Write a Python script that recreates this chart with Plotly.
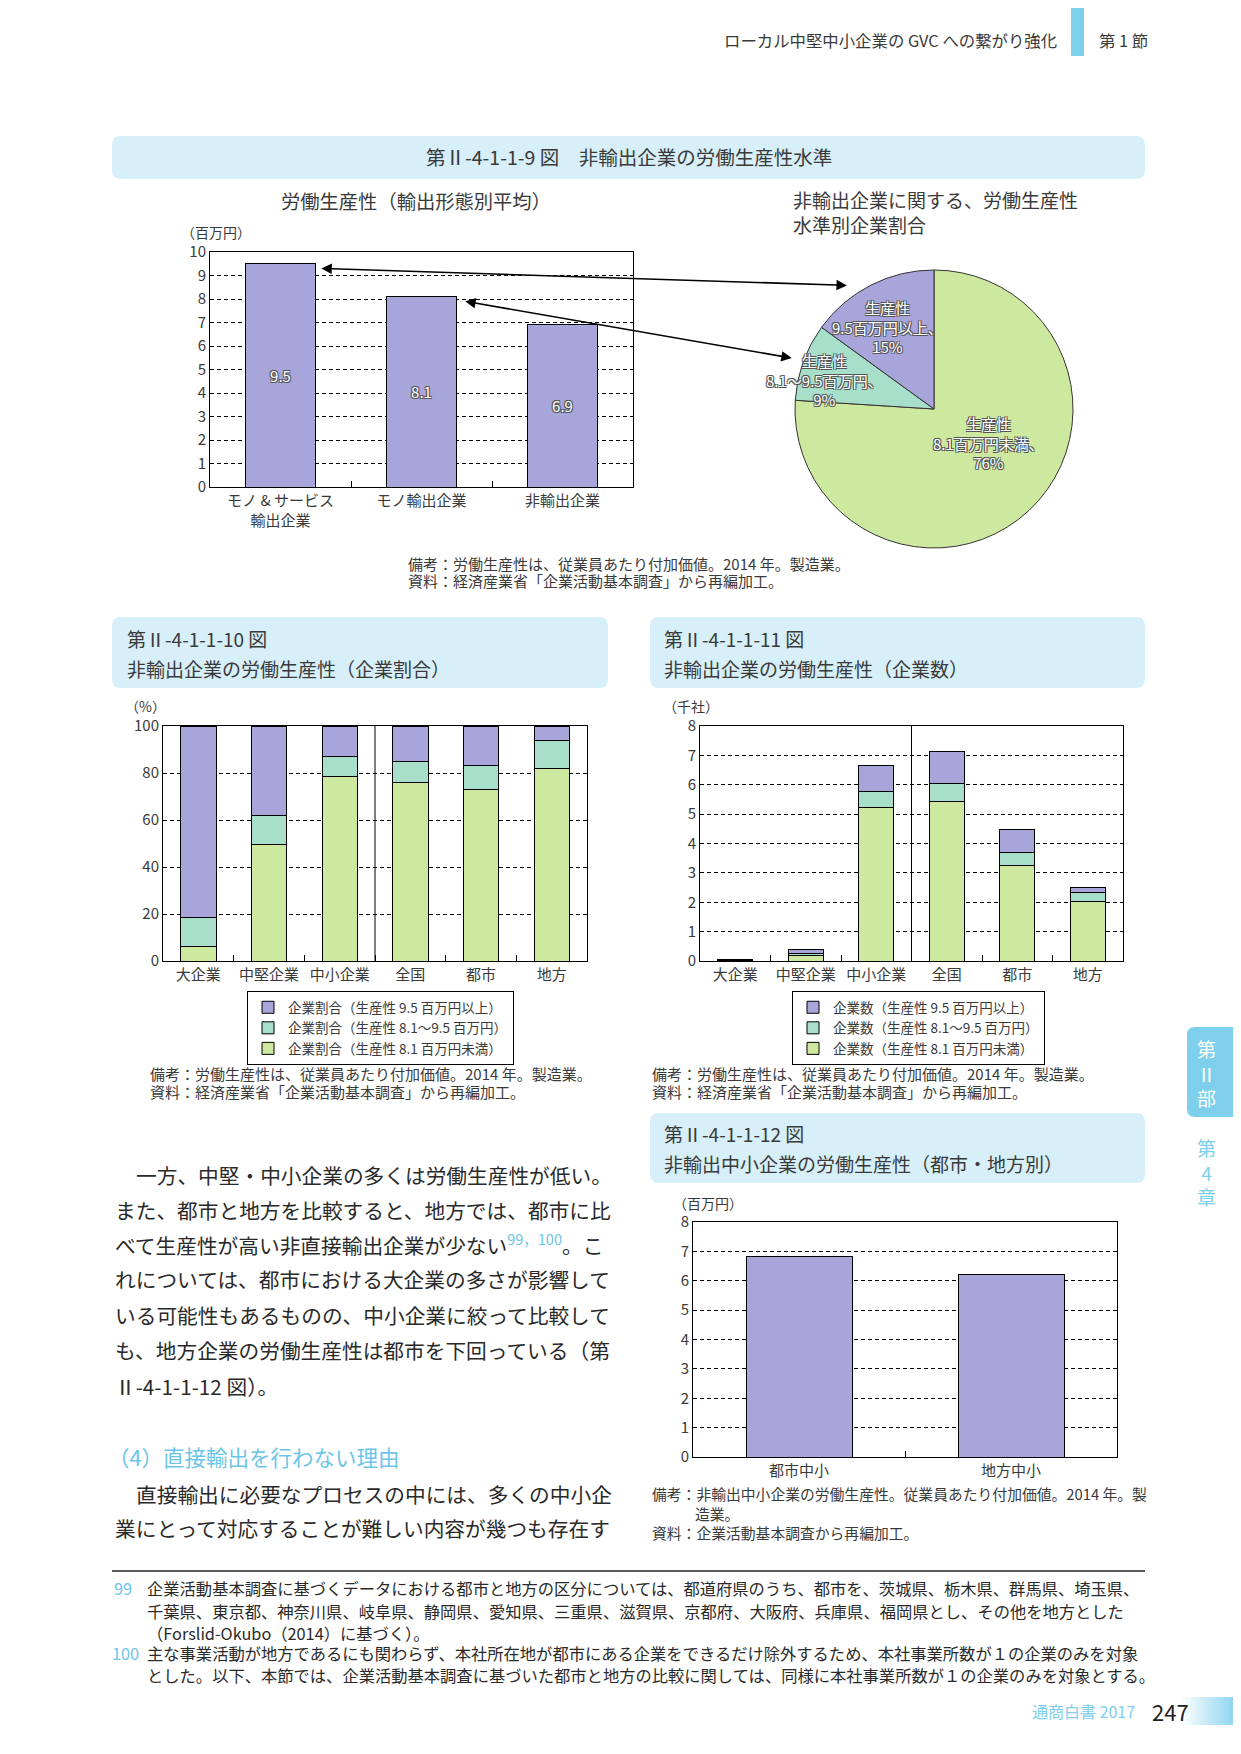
import plotly.graph_objects as go

PAGE_W, PAGE_H = 1241, 1754
OFF = 8  # browser body margin
W, H = PAGE_W - OFF, PAGE_H - OFF
def X(px): return (px - OFF) / W
def Y(py): return 1 - (py - OFF) / H

FONT = "Noto Sans CJK JP"
TXT = "#3a3a3a"
PURPLE = "#a7a5d9"
TEAL = "#a8dfcb"
GREEN = "#cde99f"
BLUE = "#6cc5e8"
BOXBLUE = "#d7eff9"
TABBLUE = "#7dcfec"

# ---------------- data ----------------
c9_cats = ["モノ & サービス<br>輸出企業", "モノ輸出企業", "非輸出企業"]
c9_vals = [9.5, 8.1, 6.9]

pie_labels = ["生産性8.1百万円未満", "生産性8.1～9.5百万円", "生産性9.5百万円以上"]
pie_vals = [76, 9, 15]

c10_cats = ["大企業", "中堅企業", "中小企業", "全国", "都市", "地方"]
c10_low = [6.1, 49.6, 78.5, 75.9, 72.9, 81.9]
c10_mid = [12.5, 12.3, 8.5, 8.9, 10.2, 11.9]
c10_high = [81.4, 38.1, 13.0, 15.2, 16.9, 6.2]
c10_names = ["企業割合（生産性 8.1 百万円未満）", "企業割合（生産性 8.1～9.5 百万円）", "企業割合（生産性 9.5 百万円以上）"]

c11_cats = ["大企業", "中堅企業", "中小企業", "全国", "都市", "地方"]
c11_low = [0.01, 0.20, 5.22, 5.43, 3.25, 2.03]
c11_mid = [0.01, 0.05, 0.55, 0.61, 0.44, 0.30]
c11_high = [0.04, 0.15, 0.88, 1.09, 0.79, 0.17]
c11_names = ["企業数（生産性 8.1 百万円未満）", "企業数（生産性 8.1～9.5 百万円）", "企業数（生産性 9.5 百万円以上）"]

c12_cats = ["都市中小", "地方中小"]
c12_vals = [6.82, 6.21]

# ---------------- figure ----------------
fig = go.Figure()
outline = dict(color="black", width=1)
outline_txt = "1px 1px 0 #555, -1px -1px 0 #555, 1px -1px 0 #555, -1px 1px 0 #555"

fig.add_trace(go.Bar(x=c9_cats, y=c9_vals, xaxis="x", yaxis="y",
                     marker=dict(color=PURPLE, line=outline),
                     text=[f"{v:.1f}" for v in c9_vals], textposition="inside",
                     insidetextanchor="middle", textangle=0, constraintext="none",
                     textfont=dict(color="white", size=15, family=FONT, shadow=outline_txt),
                     showlegend=False, hoverinfo="skip"))

fig.add_trace(go.Pie(values=pie_vals, labels=pie_labels, sort=False, direction="clockwise",
                     rotation=0, textinfo="none", showlegend=False, hoverinfo="skip",
                     marker=dict(colors=[GREEN, TEAL, PURPLE], line=dict(color="#333", width=1)),
                     domain=dict(x=[X(795), X(1073)], y=[Y(548), Y(270)])))

for vals, col, nm in zip([c10_low, c10_mid, c10_high], [GREEN, TEAL, PURPLE], c10_names):
    fig.add_trace(go.Bar(x=c10_cats, y=vals, name=nm, xaxis="x2", yaxis="y2",
                         marker=dict(color=col, line=outline), legend="legend", hoverinfo="skip"))

for vals, col, nm in zip([c11_low, c11_mid, c11_high], [GREEN, TEAL, PURPLE], c11_names):
    fig.add_trace(go.Bar(x=c11_cats, y=vals, name=nm, xaxis="x3", yaxis="y3",
                         marker=dict(color=col, line=outline), legend="legend2", hoverinfo="skip"))

fig.add_trace(go.Bar(x=c12_cats, y=c12_vals, xaxis="x4", yaxis="y4",
                     marker=dict(color=PURPLE, line=outline), showlegend=False, hoverinfo="skip"))

tickfont = dict(size=15, color=TXT, family=FONT)
def xax(x0, x1, anchor, n):
    return dict(domain=[X(x0), X(x1)], anchor=anchor, type="category", range=[-0.5, n - 0.5],
                showline=True, mirror=True, automargin=False, tickangle=0,
                linecolor="black", linewidth=1, ticks="inside", tickson="boundaries", ticklen=6,
                tickcolor="black", showgrid=False, zeroline=False, tickfont=tickfont, fixedrange=True)
def yax(y0, y1, anchor, rng, dt):
    return dict(domain=[Y(y1), Y(y0)], anchor=anchor, range=rng, dtick=dt, showline=True, mirror=True,
                automargin=False, linecolor="black", linewidth=1, ticks="", showgrid=True,
                gridcolor="black", griddash="4px,3px", gridwidth=1, zeroline=False,
                tickfont=tickfont, fixedrange=True)

legend_common = dict(xanchor="left", yanchor="top", bordercolor="black", borderwidth=1, bgcolor="white",
                     font=dict(size=13.5, color=TXT, family=FONT), traceorder="reversed",
                     itemwidth=30, tracegroupgap=0)

fig.update_layout(
    template="none",
    width=W, height=H, margin=dict(l=0, r=0, t=0, b=0, pad=0), autosize=False,
    paper_bgcolor="white", plot_bgcolor="white",
    font=dict(family=FONT, color=TXT),
    barmode="stack", bargap=0.5,
    xaxis=xax(210, 633, "y", len(c9_cats)), yaxis=yax(252, 487, "x", [0, 10], 1),
    xaxis2=xax(163, 587, "y2", len(c10_cats)), yaxis2=yax(726, 961, "x2", [0, 100], 20),
    xaxis3=xax(700, 1123, "y3", len(c11_cats)), yaxis3=yax(726, 961, "x3", [0, 8], 1),
    xaxis4=xax(693, 1117, "y4", len(c12_cats)), yaxis4=yax(1222, 1457, "x4", [0, 8], 1),
    legend=dict(x=X(247), y=Y(991), **legend_common),
    legend2=dict(x=X(792), y=Y(991), **legend_common),
)

shapes = []
def rrect(x0, y0, x1, y1, r, color):
    p = (f"M{X(x0+r)},{Y(y0)} L{X(x1-r)},{Y(y0)} Q{X(x1)},{Y(y0)} {X(x1)},{Y(y0+r)} "
         f"L{X(x1)},{Y(y1-r)} Q{X(x1)},{Y(y1)} {X(x1-r)},{Y(y1)} L{X(x0+r)},{Y(y1)} "
         f"Q{X(x0)},{Y(y1)} {X(x0)},{Y(y1-r)} L{X(x0)},{Y(y0+r)} Q{X(x0)},{Y(y0)} {X(x0+r)},{Y(y0)} Z")
    shapes.append(dict(type="path", path=p, xref="paper", yref="paper", fillcolor=color,
                       line=dict(width=0), layer="below"))

rrect(112, 136, 1145, 179, 9, BOXBLUE)
rrect(112, 617, 608, 688, 9, BOXBLUE)
rrect(650, 617, 1145, 688, 9, BOXBLUE)
rrect(650, 1113, 1145, 1183, 9, BOXBLUE)
rrect(1187, 1027, 1260, 1117, 8, TABBLUE)
shapes.append(dict(type="rect", xref="paper", yref="paper", x0=X(1071), x1=X(1084), y0=Y(56), y1=Y(0),
                   fillcolor=TABBLUE, line=dict(width=0)))
for xr, yr in [("x2", "y2 domain"), ("x3", "y3 domain")]:
    shapes.append(dict(type="line", xref=xr, yref=yr, x0=2.5, x1=2.5, y0=0, y1=1,
                       line=dict(color="black", width=1)))
shapes.append(dict(type="line", xref="paper", yref="paper", x0=X(112), x1=X(1145), y0=Y(1571), y1=Y(1571),
                   line=dict(color="#222", width=1.5)))
n = 20
gx0, gx1 = 1182, 1241
for i in range(n):
    t = (i + 0.5) / n
    r = int(255 + (0x7d - 255) * t); g = int(255 + (0xcf - 255) * t); b = int(255 + (0xec - 255) * t)
    shapes.append(dict(type="rect", xref="paper", yref="paper",
                       x0=X(gx0 + (gx1 - gx0) * i / n), x1=X(gx0 + (gx1 - gx0) * (i + 1) / n + 0.5),
                       y0=Y(1725), y1=Y(1697), fillcolor=f"rgb({r},{g},{b})", line=dict(width=0)))
fig.update_layout(shapes=shapes)

def T(text, x, y, size=14, color=TXT, xanchor="left", yanchor="middle", align="left", **kw):
    fig.add_annotation(text=text, x=X(x), y=Y(y), xref="paper", yref="paper", showarrow=False,
                       xanchor=xanchor, yanchor=yanchor, align=align,
                       font=dict(size=size, color=color, family=FONT, **kw))

# header
T("ローカル中堅中小企業の GVC への繋がり強化", 1059, 40, size=16.4, xanchor="right")
T("第 1 節", 1097, 40, size=16.4)

# chart 9
T("第Ⅱ-4-1-1-9 図　非輸出企業の労働生産性水準", 629, 156, size=19.5, xanchor="center")
T("労働生産性（輸出形態別平均）", 416, 201, size=19.3, xanchor="center")
T("（百万円）", 216, 232, size=14, xanchor="center")
T("非輸出企業に関する、労働生産性<br>水準別企業割合", 791, 212, size=19)
T("備考：労働生産性は、従業員あたり付加価値。2014 年。製造業。", 406, 563, size=15)
T("資料：経済産業省「企業活動基本調査」から再編加工。", 406, 581, size=15)

T("生産性<br>9.5百万円以上、<br>15%", 887, 327, size=15, color="white", xanchor="center",
  align="center", shadow=outline_txt)
T("生産性<br>8.1～9.5百万円、<br>9%", 824, 380, size=15, color="white", xanchor="center",
  align="center", shadow=outline_txt)
T("生産性<br>8.1百万円未満、<br>76%", 988, 443, size=15, color="white", xanchor="center",
  align="center", shadow=outline_txt)

# arrows linking bars to pie slices
fig.add_annotation(x=0.29, y=c9_vals[0] - 0.2, xref="x", yref="y", ax=527, ay=17, axref="pixel",
                   ayref="pixel", text="", showarrow=True, arrowhead=2, startarrowhead=2,
                   arrowside="end+start", arrowsize=1.3, arrowwidth=1.6, arrowcolor="black",
                   standoff=0, startstandoff=0)
fig.add_annotation(x=1.31, y=c9_vals[1] - 0.2, xref="x", yref="y", ax=328, ay=57, axref="pixel",
                   ayref="pixel", text="", showarrow=True, arrowhead=2, startarrowhead=2,
                   arrowside="end+start", arrowsize=1.3, arrowwidth=1.6, arrowcolor="black",
                   standoff=0, startstandoff=0)

# chart 10
T("第Ⅱ-4-1-1-10 図", 125, 638, size=19)
T("非輸出企業の労働生産性（企業割合）", 125, 668, size=19)
T("（%）", 145, 706, size=14, xanchor="center")
T("備考：労働生産性は、従業員あたり付加価値。2014 年。製造業。", 148, 1073, size=15)
T("資料：経済産業省「企業活動基本調査」から再編加工。", 148, 1091, size=15)

# chart 11
T("第Ⅱ-4-1-1-11 図", 662, 638, size=19)
T("非輸出企業の労働生産性（企業数）", 662, 668, size=19)
T("（千社）", 691, 706, size=14, xanchor="center")
T("備考：労働生産性は、従業員あたり付加価値。2014 年。製造業。", 650, 1073, size=15)
T("資料：経済産業省「企業活動基本調査」から再編加工。", 650, 1091, size=15)

# chart 12
T("第Ⅱ-4-1-1-12 図", 662, 1133, size=19)
T("非輸出中小企業の労働生産性（都市・地方別）", 662, 1163, size=19)
T("（百万円）", 708, 1203, size=14, xanchor="center")
T("備考：非輸出中小企業の労働生産性。従業員あたり付加価値。2014 年。製", 650, 1493, size=14.8)
T("造業。", 693, 1513, size=14.8)
T("資料：企業活動基本調査から再編加工。", 650, 1532, size=14.8)

# body text
BODY = "#2a2a2a"
bs = 20.7
T("一方、中堅・中小企業の多くは労働生産性が低い。", 134, 1175, size=bs, color=BODY)
T("また、都市と地方を比較すると、地方では、都市に比", 113, 1210, size=bs, color=BODY)
T(f"べて生産性が高い非直接輸出企業が少ない<sup><span style='color:{BLUE}'>99，100</span></sup>。こ",
  113, 1244, size=bs, color=BODY)
T("れについては、都市における大企業の多さが影響して", 113, 1279, size=bs, color=BODY)
T("いる可能性もあるものの、中小企業に絞って比較して", 113, 1315, size=bs, color=BODY)
T("も、地方企業の労働生産性は都市を下回っている（第", 113, 1350, size=bs, color=BODY)
T("Ⅱ-4-1-1-12 図）。", 113, 1386, size=bs, color=BODY)
T("（4）直接輸出を行わない理由", 106, 1456, size=21.5, color=BLUE)
T("直接輸出に必要なプロセスの中には、多くの中小企", 134, 1494, size=bs, color=BODY)
T("業にとって対応することが難しい内容が幾つも存在す", 113, 1528, size=bs, color=BODY)

# footnotes
fs = 16.3
T("99", 112, 1588, size=fs, color=BLUE)
T("企業活動基本調査に基づくデータにおける都市と地方の区分については、都道府県のうち、都市を、茨城県、栃木県、群馬県、埼玉県、",
  145, 1588, size=fs, color=BODY)
T("千葉県、東京都、神奈川県、岐阜県、静岡県、愛知県、三重県、滋賀県、京都府、大阪府、兵庫県、福岡県とし、その他を地方とした",
  145, 1611, size=fs, color=BODY)
T("（Forslid-Okubo（2014）に基づく）。", 145, 1633, size=fs, color=BODY)
T("100", 110, 1653, size=fs, color=BLUE)
T("主な事業活動が地方であるにも関わらず、本社所在地が都市にある企業をできるだけ除外するため、本社事業所数が１の企業のみを対象",
  145, 1653, size=fs, color=BODY)
T("とした。以下、本節では、企業活動基本調査に基づいた都市と地方の比較に関しては、同様に本社事業所数が１の企業のみを対象とする。",
  145, 1675, size=fs, color=BODY)

# side tab
T("第<br>Ⅱ<br>部", 1206, 1073, size=19, color="white", xanchor="center", align="center")
T("第<br>4<br>章", 1206, 1172, size=19, color=TABBLUE, xanchor="center", align="center")

# page footer
T("通商白書 2017", 1030, 1711, size=16, color=TABBLUE)
T("247", 1150, 1711, size=22, color="#222")

fig.write_html("out.html")
